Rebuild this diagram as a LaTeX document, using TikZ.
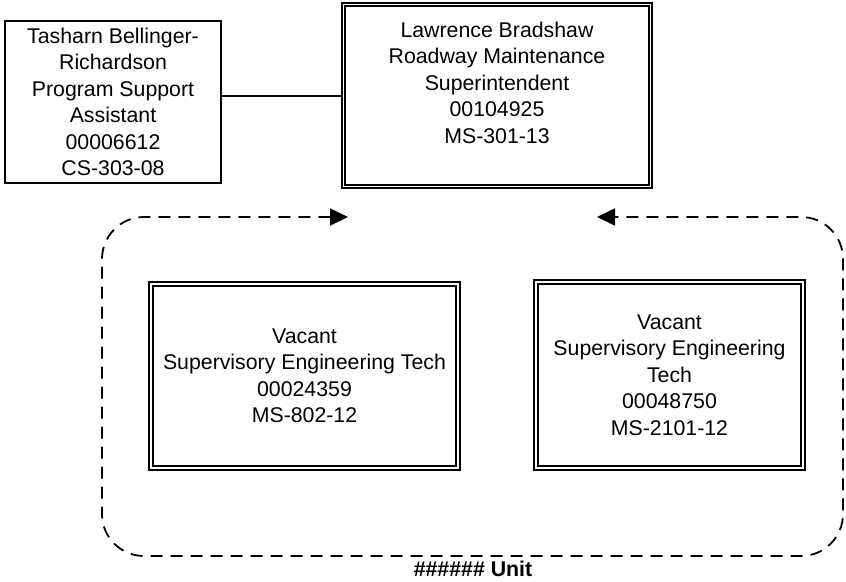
\documentclass[tikz,border=0pt]{standalone}
\usepackage{fontspec}
\setmainfont{Liberation Sans}
\usepackage{tikz}
\usetikzlibrary{arrows.meta, positioning, calc}

\begin{document}
\begin{tikzpicture}[x=1pt,y=-1pt,
  font=\fontsize{21.3}{26.5}\selectfont,
  pbox/.style={draw=black,line width=2pt,align=center,inner sep=0pt},
  dbox/.style={draw=black,double=white,double distance=1.7pt,
               line width=2pt,align=center,inner sep=0pt},
  unitloop/.style={dash pattern=on 12pt off 8pt,line width=1.8pt,
                   rounded corners=42pt,
                   {Triangle[length=18pt,width=17pt]}-{Triangle[length=18pt,width=17pt]}},
  link/.style={line width=2pt}]
\useasboundingbox (0,0) rectangle (846,581);

% Supervisor (top) and assistant (left)
\node[dbox,minimum width=307pt,minimum height=182pt] (super) at (497,95.5)
   {Lawrence Bradshaw\\ Roadway Maintenance\\ Superintendent\\ 00104925\\ MS-301-13\\[-9pt] \strut};
\node[pbox,minimum width=216pt,minimum height=162pt] (assist) at (113,102)
   {Tasharn Bellinger-\\ Richardson\\ Program Support\\ Assistant\\ 00006612\\ CS-303-08};

% Unit positions
\node[dbox,minimum width=307pt,minimum height=184pt] (vacA) at (304.5,376)
   {Vacant\\ Supervisory Engineering Tech\\ 00024359\\ MS-802-12};
\node[dbox,minimum width=267pt,minimum height=186pt] (vacB) at (669.5,375)
   {Vacant\\ Supervisory Engineering\\ Tech\\ 00048750\\ MS-2101-12};

% Unit boundary
\coordinate (tipL) at (348,217);
\coordinate (tipR) at (597,217);
\coordinate (cNW) at (102,217);
\coordinate (cSW) at (102,556);
\coordinate (cSE) at (843,556);
\coordinate (cNE) at (843,217);
\node[font=\fontsize{21.3}{26.5}\selectfont\bfseries] (unit) at (473,569) {\#\#\#\#\#\# Unit};

% Connectors
\draw[link] (super.west) -- (super.west -| assist.east);
\draw[unitloop] (tipL) -- (cNW) -- (cSW) -- (cSE) -- (cNE) -- (tipR);
\end{tikzpicture}
\end{document}
